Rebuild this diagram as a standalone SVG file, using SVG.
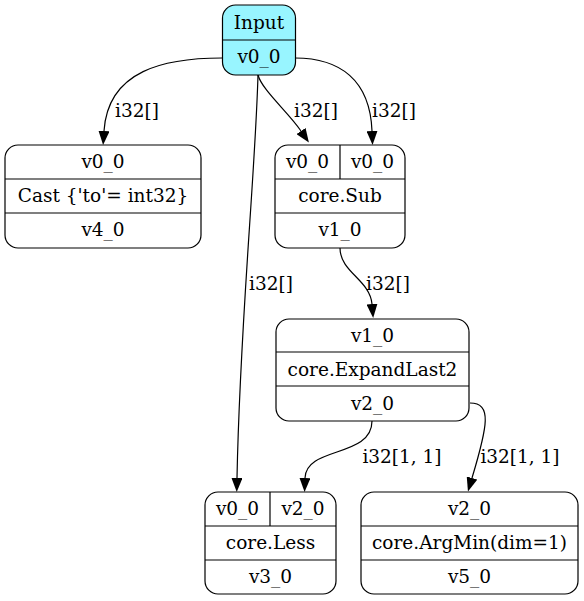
<svg xmlns="http://www.w3.org/2000/svg" width="584" height="601" viewBox="0 0 584 601">
  <defs>
    <marker id="arrow" markerUnits="userSpaceOnUse" markerWidth="14" markerHeight="11" refX="0" refY="5.5" orient="auto">
      <path d="M0,0 L14,5.5 L0,11 z" fill="#000"/>
    </marker>
  </defs>
  <style>
    text { font-family: "DejaVu Serif", "Liberation Serif", serif; font-size: 18.5px; fill: #000; text-anchor: middle; }
    .box { fill: #fff; stroke: #000; stroke-width: 1.2; }
    .input { fill: #98f5ff; }
    .sep { stroke: #000; stroke-width: 1.2; fill: none; }
    .edge { fill: none; stroke: #000; stroke-width: 1.2; marker-end: url(#arrow); }
  </style>
  <rect width="584" height="601" fill="#fff"/>

  <g id="edges">
    <path class="edge" d="M222,58 C165,58 108,70 104,131"/>
    <text x="137" y="117">i32[]</text>
    <path class="edge" d="M258,75 C262,90 288,112 301,131"/>
    <text x="316" y="117">i32[]</text>
    <path class="edge" d="M295,58 C340,58 370,80 372,131"/>
    <text x="394" y="117">i32[]</text>
    <path class="edge" d="M258,75 C255,180 240,320 237,478"/>
    <text x="271" y="290">i32[]</text>
    <path class="edge" d="M340,248 C340,272 370,280 372,304"/>
    <text x="388" y="290">i32[]</text>
    <path class="edge" d="M372,421 C372,458 306,446 305,478"/>
    <text x="402" y="463">i32[1, 1]</text>
    <path class="edge" d="M470,403 C492,403 488,425 472,478"/>
    <text x="520" y="463">i32[1, 1]</text>
  </g>

  <g id="input">
    <rect class="box input" x="222.5" y="5" width="73" height="70" rx="13"/>
    <line class="sep" x1="222.5" y1="40" x2="295.5" y2="40"/>
    <text x="259" y="29">Input</text>
    <text x="259" y="63">v0_0</text>
  </g>

  <g id="cast">
    <rect class="box" x="5" y="145" width="196" height="103" rx="13"/>
    <line class="sep" x1="5" y1="179" x2="201" y2="179"/>
    <line class="sep" x1="5" y1="213" x2="201" y2="213"/>
    <text x="103" y="168">v0_0</text>
    <text x="103" y="202">Cast {'to'= int32}</text>
    <text x="103" y="236">v4_0</text>
  </g>

  <g id="sub">
    <rect class="box" x="275" y="145" width="130" height="103" rx="13"/>
    <line class="sep" x1="275" y1="179" x2="405" y2="179"/>
    <line class="sep" x1="275" y1="213" x2="405" y2="213"/>
    <line class="sep" x1="340" y1="145" x2="340" y2="179"/>
    <text x="307.5" y="168">v0_0</text>
    <text x="372.5" y="168">v0_0</text>
    <text x="340" y="202">core.Sub</text>
    <text x="340" y="236">v1_0</text>
  </g>

  <g id="expand">
    <rect class="box" x="276" y="319" width="193" height="102" rx="13"/>
    <line class="sep" x1="276" y1="352" x2="469" y2="352"/>
    <line class="sep" x1="276" y1="386" x2="469" y2="386"/>
    <text x="372.5" y="342">v1_0</text>
    <text x="372.5" y="376">core.ExpandLast2</text>
    <text x="372.5" y="410">v2_0</text>
  </g>

  <g id="less">
    <rect class="box" x="205" y="492" width="131" height="102" rx="13"/>
    <line class="sep" x1="205" y1="526" x2="336" y2="526"/>
    <line class="sep" x1="205" y1="560" x2="336" y2="560"/>
    <line class="sep" x1="270" y1="492" x2="270" y2="526"/>
    <text x="237.5" y="515">v0_0</text>
    <text x="303" y="515">v2_0</text>
    <text x="270.5" y="549">core.Less</text>
    <text x="270.5" y="583">v3_0</text>
  </g>

  <g id="argmin">
    <rect class="box" x="361" y="492" width="217" height="102" rx="13"/>
    <line class="sep" x1="361" y1="526" x2="578" y2="526"/>
    <line class="sep" x1="361" y1="560" x2="578" y2="560"/>
    <text x="469.5" y="515">v2_0</text>
    <text x="469.5" y="549">core.ArgMin(dim=1)</text>
    <text x="469.5" y="583">v5_0</text>
  </g>
</svg>
